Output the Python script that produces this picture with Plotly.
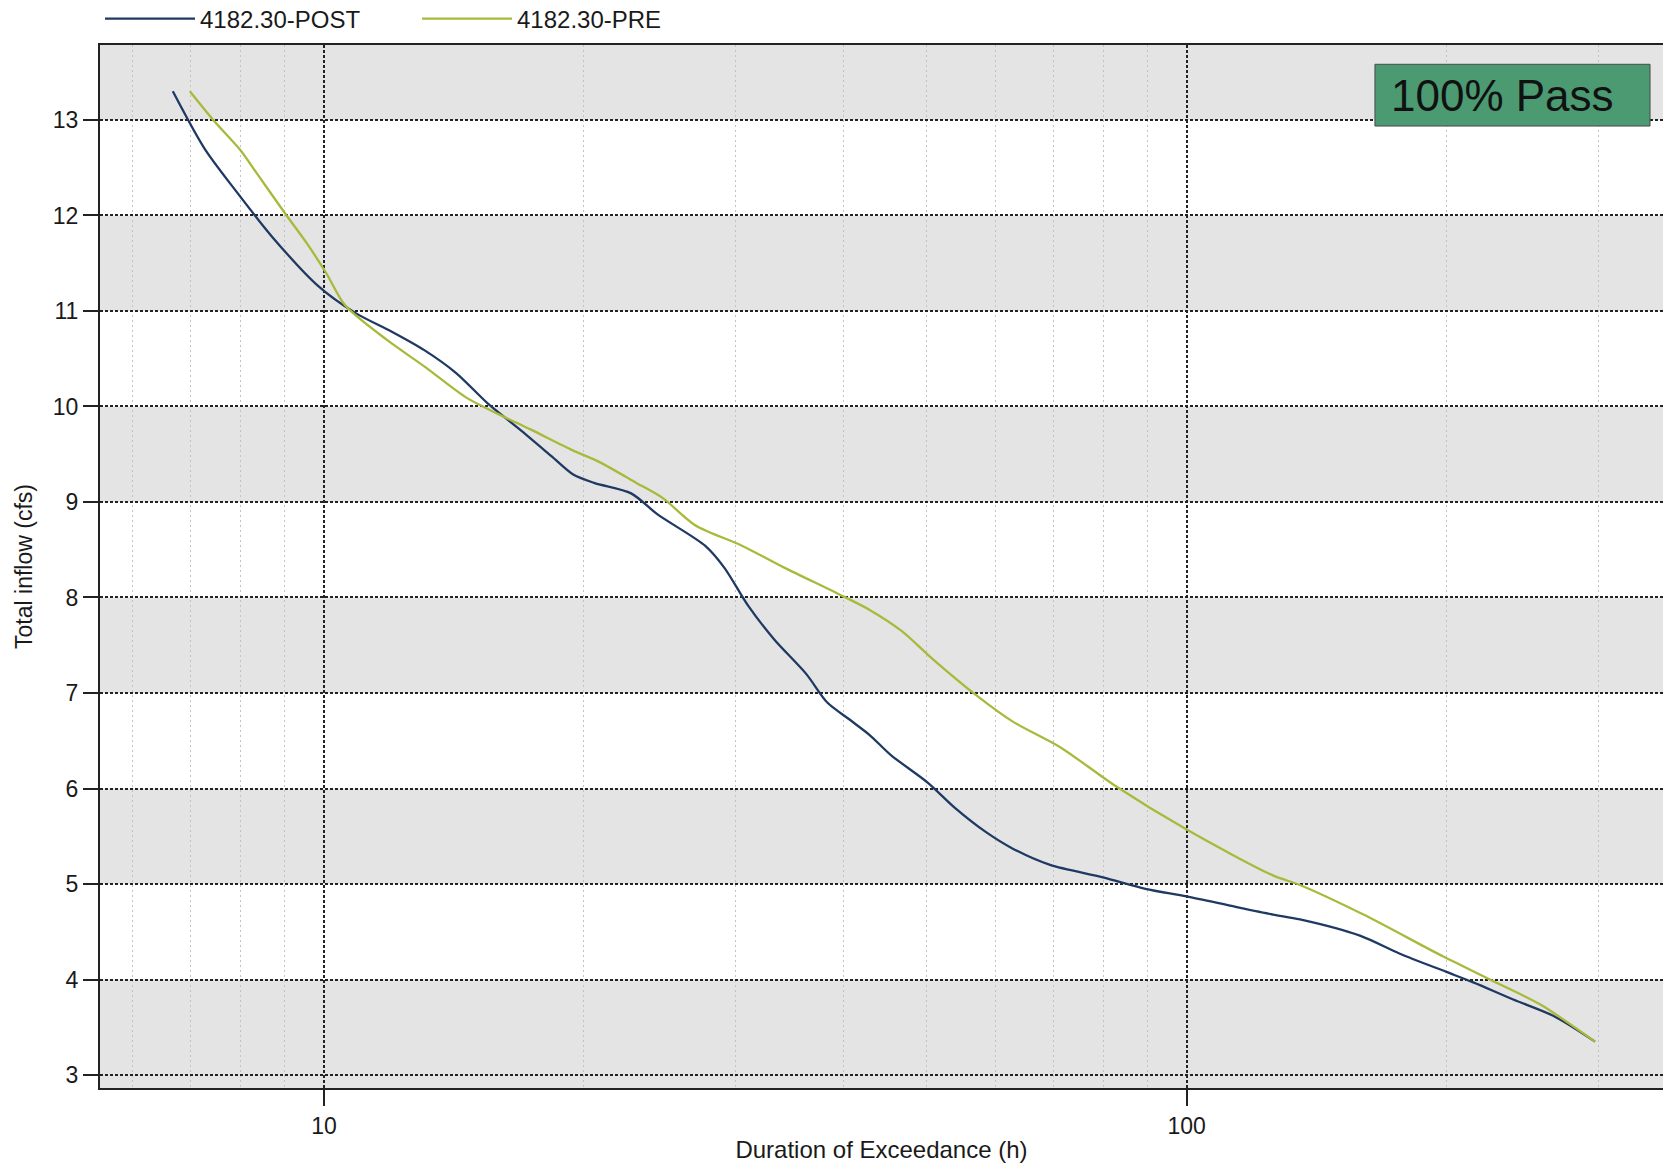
import math
import plotly.graph_objects as go

# ---- data ----
post_x = [6.68, 7.27, 7.90, 8.74, 9.85, 10.87, 12.0, 13.07, 14.23, 15.49, 16.86, 18.35,
          19.43, 20.56, 22.70, 24.36, 27.67, 29.12, 30.99, 33.26, 36.22, 38.32, 40.55,
          42.91, 45.41, 50.13, 53.83, 58.60, 62.88, 69.45, 79.98, 89.58, 100.0, 114.0,
          125.9, 135.3, 158.8, 176.7, 200.0, 214.9, 239.1, 266.0, 297.4]
post_y = [13.30, 12.70, 12.26, 11.76, 11.26, 10.98, 10.78, 10.59, 10.35, 10.03, 9.76, 9.48,
          9.29, 9.20, 9.09, 8.87, 8.54, 8.31, 7.92, 7.56, 7.20, 6.90, 6.73,
          6.56, 6.35, 6.06, 5.80, 5.54, 5.37, 5.20, 5.07, 4.95, 4.87, 4.76,
          4.68, 4.63, 4.46, 4.27, 4.08, 3.97, 3.79, 3.62, 3.35]

pre_x = [6.99, 7.44, 7.99, 8.36, 9.05, 9.55, 10.07, 10.58, 11.82, 13.07, 14.64, 15.93,
         17.35, 19.43, 20.84, 23.02, 24.71, 26.90, 30.55, 34.21, 39.42, 42.91, 46.72,
         50.85, 56.96, 62.88, 71.42, 82.28, 100.0, 125.9, 135.3, 160.3, 198.4, 224.7,
         256.8, 297.4]
pre_y = [13.30, 13.00, 12.69, 12.44, 12.00, 11.71, 11.39, 11.06, 10.70, 10.42, 10.09, 9.92,
         9.76, 9.54, 9.42, 9.20, 9.04, 8.76, 8.54, 8.31, 8.04, 7.87, 7.65,
         7.35, 6.98, 6.70, 6.43, 6.04, 5.57, 5.09, 4.99, 4.68, 4.24, 4.00,
         3.74, 3.35]

series_names = ["4182.30-POST", "4182.30-PRE"]
x_ticks = [10, 100]
y_ticks = list(range(3, 14))
badge_text = "100% Pass"
x_title = "Duration of Exceedance (h)"
y_title = "Total inflow (cfs)"

# ---- styling ----
FONT = "Arial, 'Liberation Sans', sans-serif"
POST_COLOR = "#1f3a62"
PRE_COLOR = "#a9b93c"
BAND_GREY = "#e4e4e4"

x_range = [math.log10(5.50), math.log10(356.6)]
y_range = [2.864, 13.785]

minor_vals = [m * 10 ** k for k in range(0, 3) for m in range(2, 10)]

fig = go.Figure()
fig.add_trace(go.Scatter(x=post_x, y=post_y, mode="lines", name=series_names[0],
                         line=dict(color=POST_COLOR, width=2.3, shape="spline", smoothing=0.8)))
fig.add_trace(go.Scatter(x=pre_x, y=pre_y, mode="lines", name=series_names[1],
                         line=dict(color=PRE_COLOR, width=2.3, shape="spline", smoothing=0.8)))

# alternating white bands (background is grey)
shapes = []
for v in y_ticks:
    if v % 2 == 0 and v + 1 <= max(y_ticks):
        shapes.append(dict(type="rect", xref="paper", x0=0, x1=1, yref="y", y0=v, y1=v + 1,
                           fillcolor="white", line=dict(width=0), layer="below"))
# badge box
shapes.append(dict(type="rect", xref="paper", yref="paper", x0=0.8157, x1=0.9917,
                   y0=0.9223, y1=0.9815, fillcolor="#4b9a72",
                   line=dict(color="#4a4a4a", width=1), layer="above"))

fig.update_layout(
    width=1663, height=1170,
    margin=dict(l=100, r=0, t=45, b=82, autoexpand=False),
    paper_bgcolor="white",
    plot_bgcolor=BAND_GREY,
    font=dict(family=FONT, size=23, color="#1a1a1a"),
    shapes=shapes,
    showlegend=True,
    legend=dict(orientation="h", x=0.0, xanchor="left", y=1.025, yanchor="middle",
                bgcolor="rgba(0,0,0,0)", font=dict(size=24), itemwidth=90,
                entrywidth=212, entrywidthmode="pixels", traceorder="normal"),
    annotations=[dict(text=badge_text, xref="paper", yref="paper", x=0.8976, y=0.952,
                      xanchor="center", yanchor="middle", showarrow=False,
                      font=dict(size=44, color="#111111", family=FONT))],
)

fig.update_xaxes(
    type="log", range=x_range,
    tickmode="array", tickvals=x_ticks, ticktext=[str(v) for v in x_ticks],
    ticks="outside", ticklen=16, tickwidth=2, tickcolor="#222",
    showline=True, linecolor="#222", linewidth=2, mirror=True,
    showgrid=True, gridcolor="#222", gridwidth=1.6, griddash="3px,2px",
    zeroline=False,
    minor=dict(tickmode="array", tickvals=minor_vals, showgrid=True,
               gridcolor="#c2c2c2", gridwidth=1, griddash="2px,3px", ticks=""),
    title=dict(text=x_title, font=dict(size=24), standoff=4),
    tickfont=dict(size=23),
    ticklabelstandoff=0,
)
fig.update_yaxes(
    range=y_range, tickmode="array", tickvals=y_ticks,
    ticks="outside", ticklen=15, tickwidth=2, tickcolor="#222",
    showline=True, linecolor="#222", linewidth=2, mirror=False,
    showgrid=True, gridcolor="#222", gridwidth=1.6, griddash="3px,2px",
    zeroline=False,
    title=dict(text=y_title, font=dict(size=23), standoff=14),
    tickfont=dict(size=23),
)

fig.write_html("out.html")
